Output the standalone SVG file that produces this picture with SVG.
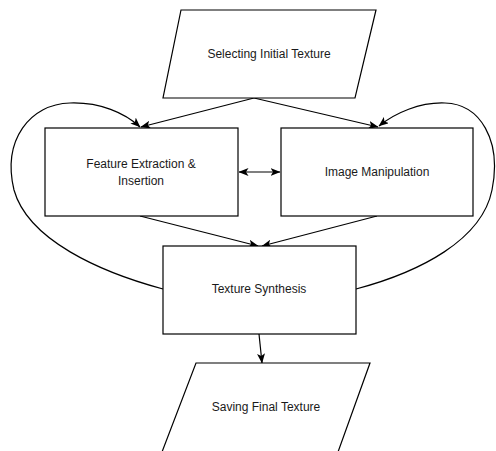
<svg xmlns="http://www.w3.org/2000/svg" width="496" height="451" viewBox="0 0 496 451">
<style>
.shape{fill:#ffffff;stroke:#000000;stroke-width:1.2}
.edge{fill:none;stroke:#000000;stroke-width:1.2}
.lbl{font-family:"Liberation Sans",Arial,sans-serif;font-size:12px;fill:#1a1a1a;text-anchor:middle}
</style>
<defs>
<marker id="arr" viewBox="0 0 10 8" refX="9.5" refY="4" markerWidth="10" markerHeight="8" markerUnits="userSpaceOnUse" orient="auto-start-reverse">
<path d="M0,0 L10,4 L0,8 L2.5,4 Z" fill="#000000"/>
</marker>
</defs>
<rect width="496" height="451" fill="#ffffff"/>
<g id="connectors">
<path class="edge" d="M254,98 L141,127" marker-end="url(#arr)"/>
<path class="edge" d="M254,98 L378,127" marker-end="url(#arr)"/>
<path class="edge" d="M239,172 L280,172" marker-start="url(#arr)" marker-end="url(#arr)"/>
<path class="edge" d="M140,216 L258,246" marker-end="url(#arr)"/>
<path class="edge" d="M377,216 L262,246" marker-end="url(#arr)"/>
<path class="edge" d="M259,334 L262,363" marker-end="url(#arr)"/>
<path class="edge" d="M163,289 C100,272 28,240 14,190 C2,140 30,104 70,103 C100,102 125,113 140,127" marker-end="url(#arr)"/>
<path class="edge" d="M356,289 C420,272 482,240 492,190 C502,140 480,104 445,103 C420,102 395,113 379,126" marker-end="url(#arr)"/>
</g>
<g id="node-select">
<polygon class="shape" points="181,10 376,10 355,98 163,98"/>
<text class="lbl" x="269" y="58">Selecting Initial Texture</text>
</g>
<g id="node-feature">
<rect class="shape" x="45" y="128" width="193" height="88"/>
<text class="lbl" x="141" y="168">Feature Extraction &amp;</text>
<text class="lbl" x="141" y="185">Insertion</text>
</g>
<g id="node-image">
<rect class="shape" x="281" y="128" width="192" height="88"/>
<text class="lbl" x="377" y="176">Image Manipulation</text>
</g>
<g id="node-synthesis">
<rect class="shape" x="163" y="246" width="193" height="88"/>
<text class="lbl" x="259" y="293">Texture Synthesis</text>
</g>
<g id="node-saving">
<polygon class="shape" points="196,363 370,363 338,452 162,452"/>
<text class="lbl" x="266" y="411">Saving Final Texture</text>
</g>
</svg>
